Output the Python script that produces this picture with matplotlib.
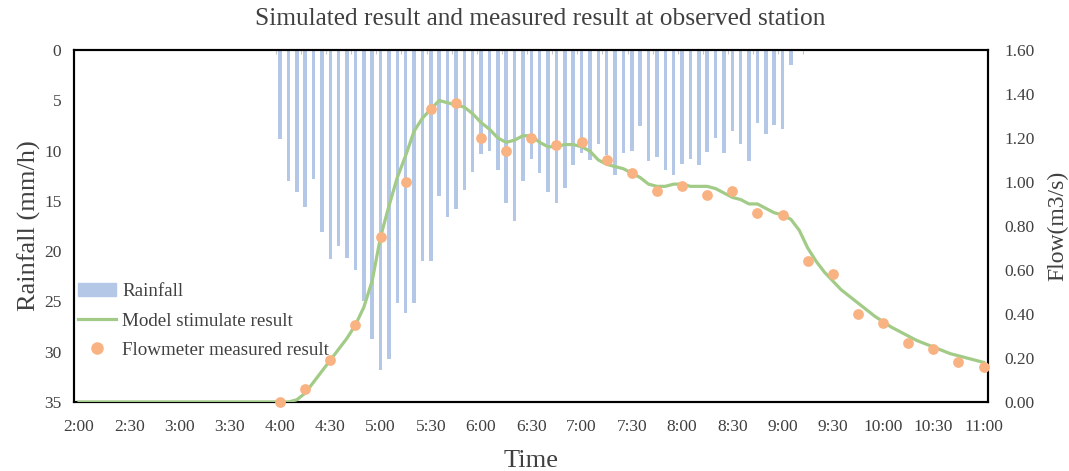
import numpy as np
import matplotlib.pyplot as plt
from matplotlib.patches import Patch
from matplotlib.lines import Line2D

plt.rcParams['font.family'] = ['Liberation Serif', 'DejaVu Serif']


def hours(t):
    h, m = t.split(':')
    return int(h) + int(m) / 60


# rainfall intensity (mm/h), one bar every 5 minutes from 4:00
rain_start = '4:00'
rain_step = 5
rainfall = [8.9, 13.0, 14.1, 15.6, 12.8, 18.1, 20.8, 19.5, 20.7, 21.9,
            25.0, 28.7, 31.8, 30.7, 25.2, 26.2, 25.2, 21.0, 21.0, 14.5,
            16.6, 15.8, 13.9, 12.1, 10.3, 10.0, 11.9, 15.2, 17.0, 13.0,
            10.8, 12.2, 14.1, 15.2, 13.7, 11.4, 10.2, 10.9, 9.4, 10.4,
            12.4, 10.2, 10.0, 7.6, 11.0, 10.6, 11.9, 12.4, 11.3, 10.8,
            11.4, 10.1, 8.8, 10.2, 8.1, 9.4, 11.0, 7.3, 8.4, 7.5,
            7.9, 1.5]

# model result (m3/s): flat from 2:00, then every 5 minutes from 4:00
model_flat_start = '2:00'
model_start = '4:00'
model_step = 5
model_flow = [0.00, 0.00, 0.01, 0.04, 0.09, 0.14, 0.19, 0.24, 0.29, 0.35,
              0.43, 0.55, 0.75, 0.89, 1.02, 1.12, 1.23, 1.29, 1.33, 1.37,
              1.36, 1.35, 1.34, 1.31, 1.27, 1.24, 1.20, 1.18, 1.19, 1.21,
              1.21, 1.18, 1.16, 1.16, 1.17, 1.17, 1.16, 1.14, 1.10, 1.08,
              1.07, 1.06, 1.04, 1.02, 0.99, 0.98, 0.98, 0.99, 0.99, 0.98,
              0.98, 0.98, 0.97, 0.95, 0.93, 0.92, 0.90, 0.90, 0.88, 0.86,
              0.85, 0.83, 0.78, 0.70, 0.64, 0.59, 0.55, 0.51, 0.48, 0.45,
              0.42, 0.39, 0.365, 0.34, 0.32, 0.30, 0.28, 0.265, 0.25, 0.235,
              0.22, 0.21, 0.20, 0.19, 0.18]

# flowmeter measurements (m3/s)
meas_time = ['4:00', '4:15', '4:30', '4:45', '5:00', '5:15', '5:30', '5:45',
             '6:00', '6:15', '6:30', '6:45', '7:00', '7:15', '7:30', '7:45',
             '8:00', '8:15', '8:30', '8:45', '9:00', '9:15', '9:30', '9:45',
             '10:00', '10:15', '10:30', '10:45', '11:00']
meas_flow = [0.00, 0.06, 0.19, 0.35, 0.75, 1.00, 1.33, 1.36,
             1.20, 1.14, 1.20, 1.17, 1.18, 1.10, 1.04, 0.96,
             0.98, 0.94, 0.96, 0.86, 0.85, 0.64, 0.58, 0.40,
             0.36, 0.27, 0.24, 0.18, 0.16]

xtick_labels = ['2:00', '2:30', '3:00', '3:30', '4:00', '4:30', '5:00', '5:30',
                '6:00', '6:30', '7:00', '7:30', '8:00', '8:30', '9:00', '9:30',
                '10:00', '10:30', '11:00']

bar_color = '#B4C7E7'
line_color = '#A2CB87'
dot_color = '#F9B282'
text_color = '#404040'

fig = plt.figure(figsize=(10.69, 4.71), dpi=100)
ax = fig.add_axes([0.0692, 0.1465, 0.8548, 0.7475])
ax2 = ax.twinx()

# rainfall bars hanging from the top
rain_x = hours(rain_start) + np.arange(len(rainfall)) * rain_step / 60
ax.bar(rain_x, rainfall, width=2.1 / 60, color=bar_color, zorder=2)
ax.set_ylim(35, 0)
ax.set_yticks(np.arange(0, 36, 5))

# model line and measured points
model_x = hours(model_start) + np.arange(len(model_flow)) * model_step / 60
model_x = np.concatenate([[hours(model_flat_start)], model_x])
model_y = np.concatenate([[0.0], model_flow])
ax2.plot(model_x, model_y, color=line_color, lw=2.3, zorder=3)
ax2.scatter([hours(t) for t in meas_time], meas_flow, s=60, color=dot_color,
            zorder=4, clip_on=False, linewidths=0)
ax2.set_ylim(0, 1.6)
ax2.set_yticks(np.arange(0, 1.61, 0.2))
ax2.set_yticklabels(['%.2f' % v for v in np.arange(0, 1.61, 0.2)])

ax.set_xlim(2 - 3 / 60, 11 + 2.5 / 60)
ax.set_xticks([hours(t) for t in xtick_labels])
ax.set_xticklabels(xtick_labels)

ax.tick_params(length=0, labelsize=12.5, labelcolor=text_color)
ax.tick_params(axis='x', pad=12)
ax.tick_params(axis='y', pad=9)
ax2.tick_params(length=0, labelsize=12.5, labelcolor=text_color, pad=12)
for a in (ax, ax2):
    for s in a.spines.values():
        s.set_linewidth(1.5)
        s.set_color('black')

# small gray ticks along the top edge
top = ax.secondary_xaxis('top')
top.set_xticks(hours('3:57') + 0.5 / 60 + np.arange(0, 22) * 0.25)
top.tick_params(direction='in', length=3, width=0.8, color='#C8C8C8',
                labeltop=False)
top.spines['top'].set_visible(False)

ax.set_ylabel('Rainfall (mm/h)', fontsize=19, color=text_color, labelpad=2)
ax2.set_ylabel('Flow(m3/s)', fontsize=17, color=text_color, labelpad=9)
ax.set_xlabel('Time', fontsize=19, color=text_color, labelpad=11)
fig.suptitle('Simulated result and measured result at observed station',
             fontsize=18.3, color=text_color, x=0.505, y=0.982)

handles = [Patch(color=bar_color),
           Line2D([0], [0], color=line_color, lw=2.3),
           Line2D([0], [0], color=dot_color, marker='o', ls='none', markersize=8)]
labels = ['Rainfall', 'Model stimulate result', 'Flowmeter measured result']
ax2.legend(handles, labels, loc='upper left', bbox_to_anchor=(-0.008, 0.37),
           frameon=False, fontsize=13.7, handlelength=2.0, handletextpad=0.32,
           labelspacing=0.62, borderaxespad=0.2, labelcolor=text_color)

plt.savefig('out.png', dpi=100)
